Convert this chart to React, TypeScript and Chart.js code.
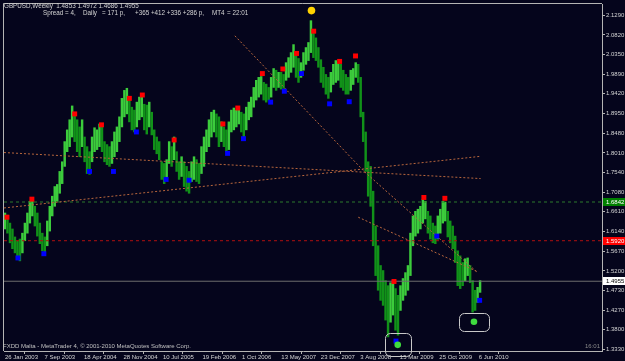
import React, { useEffect, useRef } from 'react';
import { Chart, registerables } from 'chart.js';

Chart.register(...registerables);

// ---------- texts ----------
const HEADER_LINE1 = 'GBPUSD,Weekly  1.4853 1.4972 1.4686 1.4955';
const HEADER_LINE2_PARTS = ['Spread = 4,', 'Daily', '= 171 p,', '+365 +412 +336 +286 p,', 'MT4', '= 22:01'];
const COPYRIGHT = 'FXDD Malta - MetaTrader 4, \u00A9 2001-2010 MetaQuotes Software Corp.';
const CLOCK = '16:01';

// ---------- axes ----------
const DATE_LABELS = ['26 Jan 2003', '7 Sep 2003', '18 Apr 2004', '28 Nov 2004', '10 Jul 2005', '19 Feb 2006', '1 Oct 2006', '13 May 2007', '23 Dec 2007', '3 Aug 2008', '15 Mar 2009', '25 Oct 2009', '6 Jun 2010'];
const DATE_TICK_WEEKS = [0, 32, 64, 96, 128, 160, 192, 224, 256, 288, 320, 352, 384];
const PRICE_TICKS = [2.129, 2.082, 2.035, 1.989, 1.942, 1.895, 1.848, 1.801, 1.754, 1.708, 1.661, 1.614, 1.567, 1.52, 1.473, 1.427, 1.38, 1.333];

// ---------- price bars (two-week high / low) ----------
const BAR_STEP_WEEKS = 2.016;
const HIGHS = [
  1.658, 1.653, 1.634, 1.620, 1.601, 1.592, 1.596, 1.610, 1.634, 1.658,
  1.686, 1.691, 1.674, 1.658, 1.634, 1.610, 1.601, 1.639, 1.674, 1.698,
  1.721, 1.726, 1.757, 1.780, 1.828, 1.856, 1.880, 1.913, 1.898, 1.880,
  1.863, 1.880, 1.839, 1.816, 1.804, 1.839, 1.861, 1.856, 1.870, 1.865,
  1.828, 1.821, 1.816, 1.828, 1.851, 1.863, 1.887, 1.931, 1.950, 1.955,
  1.936, 1.910, 1.903, 1.922, 1.934, 1.936, 1.917, 1.915, 1.922, 1.898,
  1.856, 1.839, 1.828, 1.780, 1.776, 1.785, 1.828, 1.816, 1.839, 1.804,
  1.780, 1.792, 1.780, 1.769, 1.757, 1.780, 1.792, 1.785, 1.776, 1.816,
  1.839, 1.856, 1.880, 1.898, 1.903, 1.894, 1.887, 1.875, 1.863, 1.856,
  1.875, 1.903, 1.908, 1.903, 1.910, 1.898, 1.894, 1.910, 1.922, 1.934,
  1.957, 1.974, 1.981, 1.983, 1.969, 1.965, 1.957, 1.981, 2.002, 1.998,
  1.993, 1.993, 1.988, 2.016, 2.028, 2.040, 2.059, 2.033, 2.026, 2.016,
  2.040, 2.052, 2.064, 2.116, 2.087, 2.075, 2.052, 2.023, 2.005, 1.988,
  1.981, 1.993, 2.012, 2.021, 2.016, 2.012, 1.998, 1.988, 1.981, 1.998,
  2.002, 2.016, 2.012, 1.981, 1.898, 1.851, 1.780, 1.769, 1.710, 1.627,
  1.580, 1.533, 1.521, 1.497, 1.485, 1.492, 1.497, 1.478, 1.462, 1.485,
  1.502, 1.516, 1.533, 1.610, 1.651, 1.662, 1.667, 1.674, 1.691, 1.686,
  1.662, 1.651, 1.634, 1.627, 1.651, 1.667, 1.686, 1.684, 1.662, 1.639,
  1.627, 1.603, 1.568, 1.556, 1.540, 1.549, 1.551, 1.533, 1.497, 1.474,
  1.481, 1.497,
];
const LOWS = [
  1.620, 1.610, 1.587, 1.573, 1.563, 1.549, 1.544, 1.563, 1.592, 1.610,
  1.634, 1.651, 1.627, 1.603, 1.585, 1.568, 1.559, 1.580, 1.615, 1.651,
  1.674, 1.686, 1.705, 1.728, 1.769, 1.804, 1.816, 1.839, 1.828, 1.804,
  1.792, 1.816, 1.780, 1.752, 1.750, 1.780, 1.804, 1.809, 1.816, 1.804,
  1.780, 1.773, 1.769, 1.776, 1.792, 1.804, 1.828, 1.863, 1.887, 1.894,
  1.875, 1.856, 1.851, 1.863, 1.880, 1.887, 1.856, 1.846, 1.863, 1.844,
  1.809, 1.799, 1.785, 1.738, 1.728, 1.738, 1.776, 1.769, 1.785, 1.757,
  1.738, 1.745, 1.721, 1.710, 1.705, 1.733, 1.738, 1.733, 1.728, 1.752,
  1.769, 1.804, 1.816, 1.839, 1.851, 1.839, 1.816, 1.828, 1.816, 1.804,
  1.809, 1.851, 1.856, 1.863, 1.870, 1.851, 1.839, 1.856, 1.880, 1.887,
  1.910, 1.927, 1.934, 1.941, 1.927, 1.922, 1.927, 1.934, 1.957, 1.950,
  1.957, 1.953, 1.955, 1.974, 1.981, 1.993, 2.005, 1.981, 1.969, 1.981,
  1.998, 2.012, 2.021, 2.040, 2.028, 2.021, 2.005, 1.969, 1.957, 1.941,
  1.931, 1.946, 1.964, 1.969, 1.974, 1.957, 1.950, 1.941, 1.941, 1.950,
  1.964, 1.981, 1.969, 1.887, 1.828, 1.757, 1.698, 1.674, 1.580, 1.509,
  1.474, 1.450, 1.438, 1.403, 1.363, 1.398, 1.415, 1.379, 1.367, 1.426,
  1.450, 1.462, 1.474, 1.509, 1.580, 1.603, 1.610, 1.620, 1.634, 1.644,
  1.610, 1.596, 1.587, 1.585, 1.596, 1.610, 1.634, 1.639, 1.601, 1.587,
  1.573, 1.540, 1.485, 1.478, 1.485, 1.497, 1.509, 1.492, 1.422, 1.426,
  1.445, 1.469,
];

// ---------- fractal markers ----------
const UP_FRACTAL_WEEKS = [1.6, 21.8, 56.5, 78.2, 100.8, 111.3, 137.1, 176.6, 188.7, 208.6, 225.2, 236.3, 250.2, 271.2, 284.1, 315.3, 339.5, 356.5];
const UP_FRACTAL_PRICES = [1.648, 1.691, 1.894, 1.868, 1.931, 1.939, 1.832, 1.870, 1.908, 1.990, 2.001, 2.038, 2.091, 2.019, 2.032, 1.495, 1.695, 1.693];
const DOWN_FRACTAL_WEEKS = [10.5, 31.5, 68.5, 87.9, 106.5, 130.6, 149.2, 180.4, 193.3, 215.3, 226.4, 240.3, 263.1, 279.0, 316.9, 350.0, 384.7];
const DOWN_FRACTAL_PRICES = [1.551, 1.561, 1.757, 1.757, 1.851, 1.738, 1.736, 1.800, 1.835, 1.922, 1.948, 1.990, 1.918, 1.923, 1.353, 1.603, 1.450];
const TOP_MARK_WEEKS = [248.4];
const TOP_MARK_PRICES = [2.140];
const GREEN_MARK_WEEKS = [318.3, 380.1];
const GREEN_MARK_PRICES = [1.344, 1.399];

// ---------- objects ----------
const LEVELS = [1.6842, 1.592, 1.4955];
const TREND_A_WEEKS = [-0.8, 385.5];
const TREND_A_PRICES = [1.802, 1.740];
const TREND_B_WEEKS = [-0.8, 385.5];
const TREND_B_PRICES = [1.670, 1.793];
const TREND_C_WEEKS = [186.3, 291.1, 383.1];
const TREND_C_PRICES = [2.080, 1.757, 1.516];
const TREND_D_WEEKS = [286.3, 383.1];
const TREND_D_PRICES = [1.648, 1.518];
const BOX_WEEKS = [[308.1, 329.0], [367.7, 391.9]];
const BOX_PRICES = [[1.372, 1.318], [1.419, 1.377]];

// ---------- scale ranges ----------
const X_MIN = -0.806;
const X_MAX = 483.87;
const Y_MIN = 1.3294;
const Y_MAX = 2.1557;

const FONT = '"Liberation Sans", Arial, sans-serif';
const BG = '#05051c';
const FRAME = '#b4b4b4';
const TEXT = '#d4d4d4';
const BAR_UP = '#3ccc3c';
const BAR_DOWN = '#119219';
const TREND_COLOR = '#b8663c';
const LEVEL_LINE_COLORS = ['#2c7a2c', '#b01010', '#6e6e6e'];
const LEVEL_DASH = [[3, 3], [3, 3], []];
const LEVEL_BOX_BG = ['#008000', '#ff0000', '#ffffff'];
const LEVEL_BOX_FG = ['#ffffff', '#ffffff', '#000000'];

const pts = (xs: number[], ys: number[]) => xs.map((x, i) => ({ x, y: ys[i] }));

const overlayPlugin = {
  id: 'mtOverlay',
  beforeDraw(chart: any) {
    const { ctx, width, height } = chart;
    ctx.save();
    ctx.fillStyle = BG;
    ctx.fillRect(0, 0, width, height);
    ctx.restore();
  },
  afterDraw(chart: any) {
    const { ctx, chartArea, scales } = chart;
    const xs = scales.x;
    const ys = scales.y;
    ctx.save();
    ctx.strokeStyle = FRAME;
    ctx.lineWidth = 1;
    ctx.beginPath();
    ctx.moveTo(chartArea.left - 0.5, chartArea.bottom);
    ctx.lineTo(chartArea.left - 0.5, chartArea.top - 0.5);
    ctx.lineTo(chartArea.right, chartArea.top - 0.5);
    ctx.stroke();

    ctx.strokeStyle = '#c8c8c8';
    BOX_WEEKS.forEach((bw, i) => {
      const x0 = Math.round(xs.getPixelForValue(bw[0])) + 0.5;
      const x1 = Math.round(xs.getPixelForValue(bw[1])) + 0.5;
      const y0 = Math.round(ys.getPixelForValue(BOX_PRICES[i][0])) + 0.5;
      const y1 = Math.round(ys.getPixelForValue(BOX_PRICES[i][1])) + 0.5;
      ctx.beginPath();
      (ctx as any).roundRect(x0, y0, x1 - x0, y1 - y0, 5);
      ctx.stroke();
    });

    ctx.font = `6px ${FONT}`;
    ctx.textBaseline = 'middle';
    ctx.textAlign = 'left';
    LEVELS.forEach((v, i) => {
      const py = Math.round(ys.getPixelForValue(v));
      ctx.fillStyle = LEVEL_BOX_BG[i];
      ctx.fillRect(chartArea.right + 1, py - 4, 22, 8);
      ctx.fillStyle = LEVEL_BOX_FG[i];
      ctx.fillText(v.toFixed(4), chartArea.right + 4, py + 0.5);
    });

    ctx.fillStyle = TEXT;
    ctx.font = `6.3px ${FONT}`;
    ctx.fillText(HEADER_LINE1, 4, 6);
    const partX = [43, 83, 102, 135, 212, 227];
    HEADER_LINE2_PARTS.forEach((t, i) => ctx.fillText(t, partX[i], 13));

    ctx.fillStyle = '#c0c0c0';
    ctx.font = `6px ${FONT}`;
    ctx.fillText(COPYRIGHT, 3, 346);
    ctx.fillStyle = '#8a8a8a';
    ctx.fillText(CLOCK, 585, 346);
    ctx.restore();
  },
};

export default function App() {
  const ref = useRef<HTMLCanvasElement | null>(null);

  useEffect(() => {
    if (!ref.current) return;
    const barData = HIGHS.map((h, i) => ({ x: i * BAR_STEP_WEEKS, y: [LOWS[i], h] }));
    const barColors = HIGHS.map((h, i) => {
      if (i === 0) return BAR_UP;
      const mid = (h + LOWS[i]) / 2;
      const prev = (HIGHS[i - 1] + LOWS[i - 1]) / 2;
      return mid >= prev ? BAR_UP : BAR_DOWN;
    });

    const lineDs = (data: any[], color: string, dash: number[], order: number) => ({
      type: 'line' as const,
      data,
      borderColor: color,
      borderWidth: 1,
      borderDash: dash,
      pointRadius: 0,
      fill: false,
      tension: 0,
      order,
    });
    const markDs = (data: any[], color: string, style: string, radius: number, order: number) => ({
      type: 'line' as const,
      data,
      showLine: false,
      pointStyle: style,
      pointRadius: radius,
      pointBackgroundColor: color,
      pointBorderWidth: 0,
      borderWidth: 0,
      order,
    });

    const chart = new Chart(ref.current, {
      type: 'bar',
      data: {
        datasets: [
          {
            type: 'bar',
            data: barData as any,
            backgroundColor: barColors,
            borderWidth: 0,
            barThickness: 1.8,
            grouped: false,
            order: 10,
          } as any,
          ...LEVELS.map((v, i) => lineDs([{ x: X_MIN, y: v }, { x: X_MAX, y: v }], LEVEL_LINE_COLORS[i], LEVEL_DASH[i], 6)),
          lineDs(pts(TREND_A_WEEKS, TREND_A_PRICES), TREND_COLOR, [2, 2], 5),
          lineDs(pts(TREND_B_WEEKS, TREND_B_PRICES), TREND_COLOR, [2, 2], 5),
          lineDs(pts(TREND_C_WEEKS, TREND_C_PRICES), TREND_COLOR, [2, 2], 5),
          lineDs(pts(TREND_D_WEEKS, TREND_D_PRICES), TREND_COLOR, [2, 2], 5),
          markDs(pts(UP_FRACTAL_WEEKS, UP_FRACTAL_PRICES), '#ff0000', 'rect', 3.5, 2),
          markDs(pts(DOWN_FRACTAL_WEEKS, DOWN_FRACTAL_PRICES), '#0000ff', 'rect', 3.5, 2),
          markDs(pts(TOP_MARK_WEEKS, TOP_MARK_PRICES), '#ffd200', 'circle', 3.8, 1),
          markDs(pts(GREEN_MARK_WEEKS, GREEN_MARK_PRICES), '#3fdc3f', 'circle', 3.3, 1),
        ] as any,
      },
      options: {
        responsive: false,
        animation: false,
        events: [],
        layout: { padding: { left: 1, top: 1, right: 0, bottom: 0 } },
        plugins: { legend: { display: false }, tooltip: { enabled: false } },
        scales: {
          x: {
            type: 'linear',
            min: X_MIN,
            max: X_MAX,
            offset: false,
            afterBuildTicks: (axis: any) => {
              axis.ticks = DATE_TICK_WEEKS.map((v) => ({ value: v }));
            },
            afterFit: (axis: any) => {
              axis.height = 10;
              axis.paddingLeft = 0;
              axis.paddingRight = 0;
            },
            ticks: {
              autoSkip: false,
              maxRotation: 0,
              minRotation: 0,
              align: 'start',
              padding: 0,
              color: TEXT,
              font: { size: 6, family: FONT },
              callback: (_v: any, i: number) => DATE_LABELS[i],
            },
            grid: { drawOnChartArea: false, drawTicks: true, tickLength: 3, color: FRAME },
            border: { display: true, color: FRAME },
          },
          y: {
            type: 'linear',
            position: 'right',
            min: Y_MIN,
            max: Y_MAX,
            afterBuildTicks: (axis: any) => {
              axis.ticks = PRICE_TICKS.map((v) => ({ value: v }));
            },
            afterFit: (axis: any) => {
              axis.width = 23;
              axis.paddingTop = 0;
              axis.paddingBottom = 0;
            },
            ticks: {
              padding: 1,
              color: TEXT,
              font: { size: 6, family: FONT },
              callback: (v: any) => Number(v).toFixed(4),
            },
            grid: { drawOnChartArea: false, drawTicks: true, tickLength: 3, color: FRAME },
            border: { display: true, color: FRAME },
          },
        },
      } as any,
      plugins: [overlayPlugin],
    });
    return () => chart.destroy();
  }, []);

  return (
    <div style={{ position: 'fixed', left: 0, top: 0, width: 625, height: 361, background: BG }}>
      <canvas ref={ref} width={625} height={361} style={{ display: 'block', width: 625, height: 361 }} />
    </div>
  );
}
